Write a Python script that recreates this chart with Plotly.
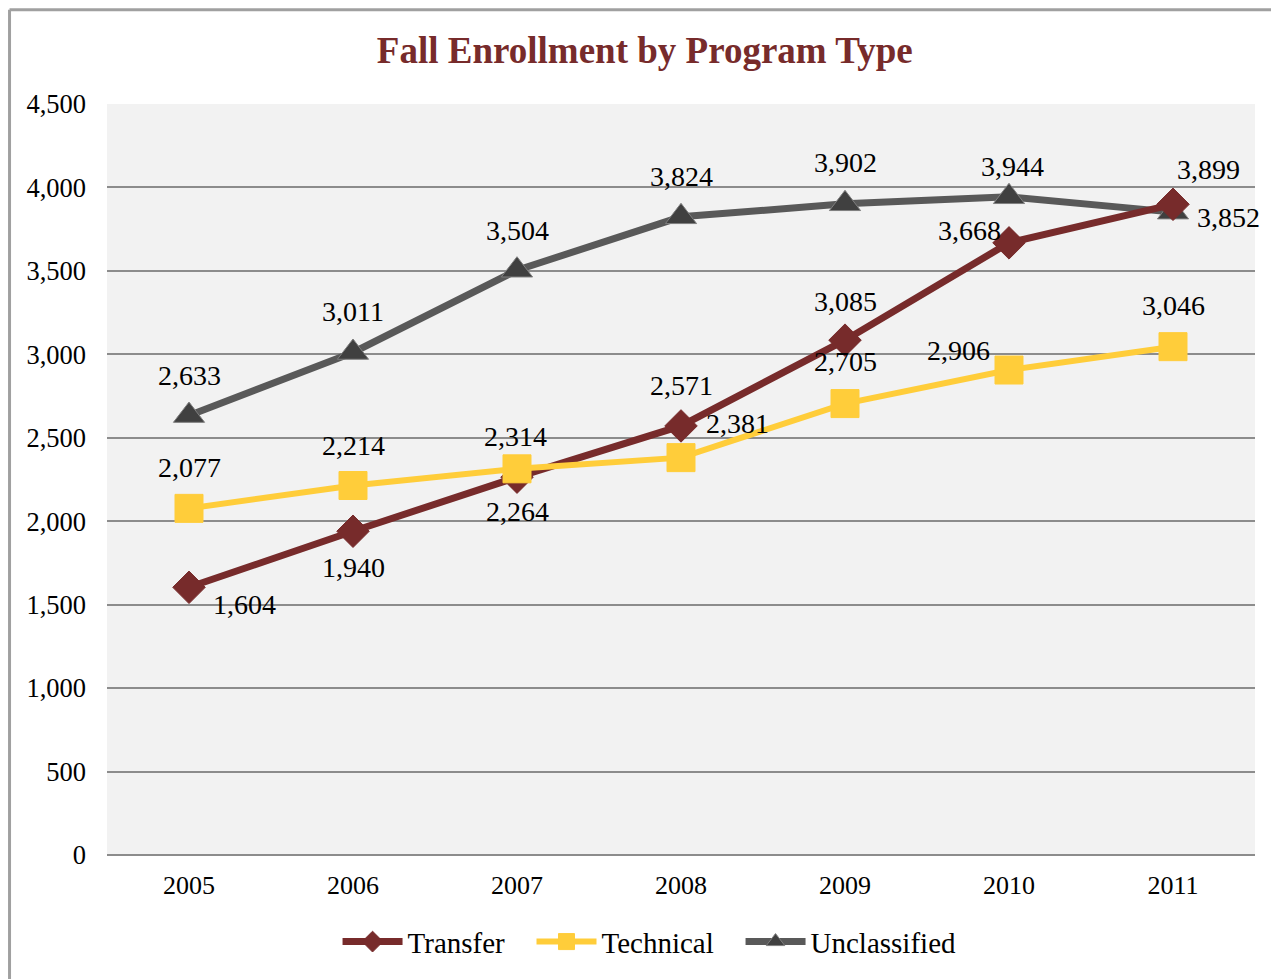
import plotly.graph_objects as go

years = ["2005", "2006", "2007", "2008", "2009", "2010", "2011"]
transfer = [1604, 1940, 2264, 2571, 3085, 3668, 3899]
technical = [2077, 2214, 2314, 2381, 2705, 2906, 3046]
unclassified = [2633, 3011, 3504, 3824, 3902, 3944, 3852]

# label offsets (px) per point
transfer_off = [(55, 17), (0, 36), (0, 34), (0, -40), (0, -39), (-40, -12), (35, -35)]
technical_off = [(0, -41), (0, -40), (-2, -32), (56, -34), (0, -42), (-51, -20), (0, -41)]
unclassified_off = [(0, -40), (0, -41), (0, -40), (0, -40), (0, -41), (3, -30), (55, 5)]

SERIF = "Liberation Serif, Times New Roman, serif"
PAD = "\u00a0\u00a0\u00a0"  # spacing between legend entries

fig = go.Figure()

series = {
    "Transfer": (transfer, "#772B2B", "#772B2B", "diamond", 25, 7, transfer_off),
    "Technical": (technical, "#FFCD3A", "#FFCD3A", "square", 28, 6, technical_off),
    "Unclassified": (unclassified, "#595959", "#404040", "triangle-up", 27, 7, unclassified_off),
}
legend_names = {"Transfer": "Transfer" + PAD, "Technical": "Technical" + PAD, "Unclassified": "Unclassified"}
rank = {"Transfer": 1, "Technical": 2, "Unclassified": 3}

for name in ["Unclassified", "Transfer", "Technical"]:
    vals, lc, mc, sym, msize, lw, offs = series[name]
    fig.add_trace(go.Scatter(
        x=years, y=vals, name=legend_names[name], mode="lines+markers",
        line=dict(color=lc, width=lw),
        marker=dict(symbol=sym, size=msize, color=mc,
                    line=dict(width=1, color="#7F7F7F" if name == "Unclassified" else mc)),
        legendrank=rank[name],
        hoverinfo="skip",
    ))
    for i, (v, (dx, dy)) in enumerate(zip(vals, offs)):
        fig.add_annotation(
            x=i, y=v, text=f"{v:,}", showarrow=False,
            xshift=dx, yshift=-dy,
            font=dict(family=SERIF, size=28, color="#000000"),
        )

# outer frame
fig.add_shape(type="line", xref="paper", yref="paper",
              x0=-0.0849, y0=1.1255, x1=1.05, y1=1.1255,
              line=dict(color="#A0A0A0", width=3))
fig.add_shape(type="line", xref="paper", yref="paper",
              x0=-0.0849, y0=1.1255, x1=-0.0849, y1=-0.2,
              line=dict(color="#A0A0A0", width=3))

fig.update_layout(
    width=1271, height=971,
    margin=dict(l=99, r=24, t=96, b=122),
    paper_bgcolor="white",
    plot_bgcolor="#F2F2F2",
    title=dict(text="<b>Fall Enrollment by Program Type</b>",
               x=0.501, xanchor="center", y=0.9567, yanchor="middle",
               font=dict(family=SERIF, size=37, color="#772B2B")),
    font=dict(family=SERIF, size=26, color="#000000"),
    showlegend=True,
    legend=dict(orientation="h", x=0.4726, xanchor="center", y=-0.1155, yanchor="middle",
                font=dict(family=SERIF, size=29, color="#000000"),
                itemwidth=60, tracegroupgap=0, bgcolor="rgba(0,0,0,0)"),
)

fig.update_xaxes(
    type="category", range=[-0.5, 6.5],
    showgrid=False, showline=False, zeroline=False,
    ticks="", ticklabelstandoff=12,
    tickfont=dict(family=SERIF, size=26),
)
fig.update_yaxes(
    range=[0, 4500], tickvals=[0, 500, 1000, 1500, 2000, 2500, 3000, 3500, 4000, 4500],
    tickformat=",", showgrid=True, gridcolor="#8C8C8C", gridwidth=2,
    zeroline=True, zerolinecolor="#8C8C8C", zerolinewidth=2,
    showline=False, ticks="", ticklabelstandoff=20,
    tickfont=dict(family=SERIF, size=26.5),
)

fig.write_html("out.html")
